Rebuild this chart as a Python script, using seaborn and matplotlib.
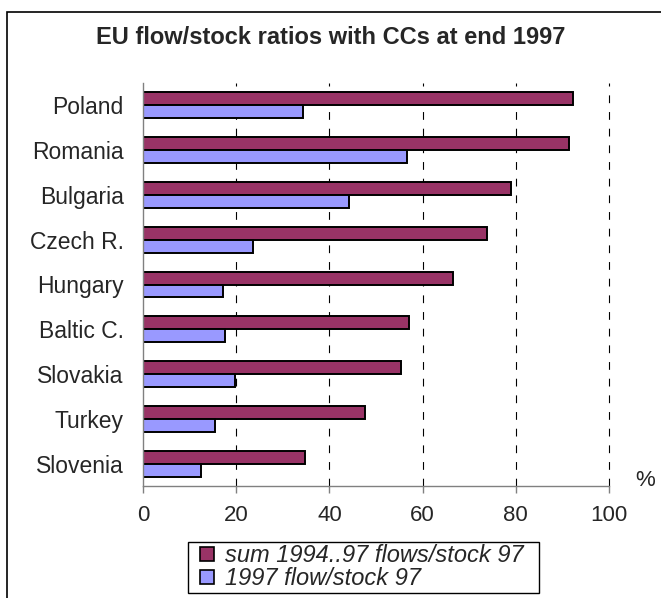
import matplotlib
matplotlib.use("Agg")
import matplotlib.pyplot as plt
from matplotlib.patches import Rectangle
from matplotlib.lines import Line2D
import seaborn as sns
import pandas as pd

# Data
countries = ["Poland", "Romania", "Bulgaria", "Czech R.", "Hungary",
             "Baltic C.", "Slovakia", "Turkey", "Slovenia"]
sum_flows = [92.3, 91.4, 79.0, 73.8, 66.5, 57.1, 55.4, 47.6, 34.8]
flow_1997 = [34.3, 56.7, 44.2, 23.6, 17.2, 17.6, 19.7, 15.5, 12.4]
series_names = ["sum 1994..97 flows/stock 97", "1997 flow/stock 97"]
x_ticks = [0, 20, 40, 60, 80, 100]
colors = ["#993366", "#9999FF"]

df = pd.DataFrame({
    "country": countries * 2,
    "value": sum_flows + flow_1997,
    "series": [series_names[0]] * len(countries) + [series_names[1]] * len(countries),
})

sns.set_style("white")
plt.rcParams["font.family"] = ["Liberation Sans", "DejaVu Sans"]

fig = plt.figure(figsize=(6.61, 5.98), dpi=100)
ax = fig.add_axes([143 / 661, 1 - 486 / 598, (609 - 143) / 661, (486 - 83) / 598])

sns.barplot(data=df, y="country", x="value", hue="series", orient="h",
            palette=colors, width=0.58, edgecolor="black", linewidth=1.4,
            saturation=1, ax=ax, legend=False)

ax.set_xlim(0, 100)
ax.set_ylim(len(countries) - 0.5, -0.5)
ax.set_xticks(x_ticks)
ax.set_xticklabels([str(t) for t in x_ticks], fontsize=16)
ax.tick_params(axis="x", length=5, width=1, color="#808080", pad=9, direction="out", bottom=True)
ax.tick_params(axis="y", length=0, pad=14, labelsize=16.5)
ax.set_xlabel("")
ax.set_ylabel("")

# Dashed vertical gridlines
for t in x_ticks[1:]:
    ax.axvline(t, color="black", linewidth=0.8, linestyle=(0, (7, 8)),
               zorder=0, clip_on=False)

for side in ["top", "right"]:
    ax.spines[side].set_visible(False)
for side in ["left", "bottom"]:
    ax.spines[side].set_color("#808080")
    ax.spines[side].set_linewidth(1)

fig.text(635 / 661, 1 - 481 / 598, "%", fontsize=16, ha="left", va="center")

fig.text(0.5, 1 - 37 / 598, "EU flow/stock ratios with CCs at end 1997",
         fontsize=17, fontweight="bold", ha="center", va="center")

# Outer chart frame
fig.patches.append(Rectangle((7 / 661, -0.05), 1.05, 1 - 12 / 598 + 0.05,
                             transform=fig.transFigure, fill=False,
                             edgecolor="black", linewidth=1.2))

# Legend with small square swatches
handles = [Line2D([], [], linestyle="none", marker="s", markersize=10.5,
                  markerfacecolor=c, markeredgecolor="black", markeredgewidth=1.2)
           for c in colors]
leg = fig.legend(handles, series_names, loc="upper left", mode="expand",
                 bbox_to_anchor=(188 / 661, 1 - 598 / 598, 351 / 661, 56 / 598),
                 frameon=True, fancybox=False, framealpha=1,
                 prop={"style": "italic", "size": 17},
                 handlelength=1.45, handletextpad=0.0,
                 labelspacing=0.0, borderpad=0.1, borderaxespad=0)
leg.get_frame().set_edgecolor("black")
leg.get_frame().set_linewidth(1)

fig.savefig("out.png", dpi=100)
